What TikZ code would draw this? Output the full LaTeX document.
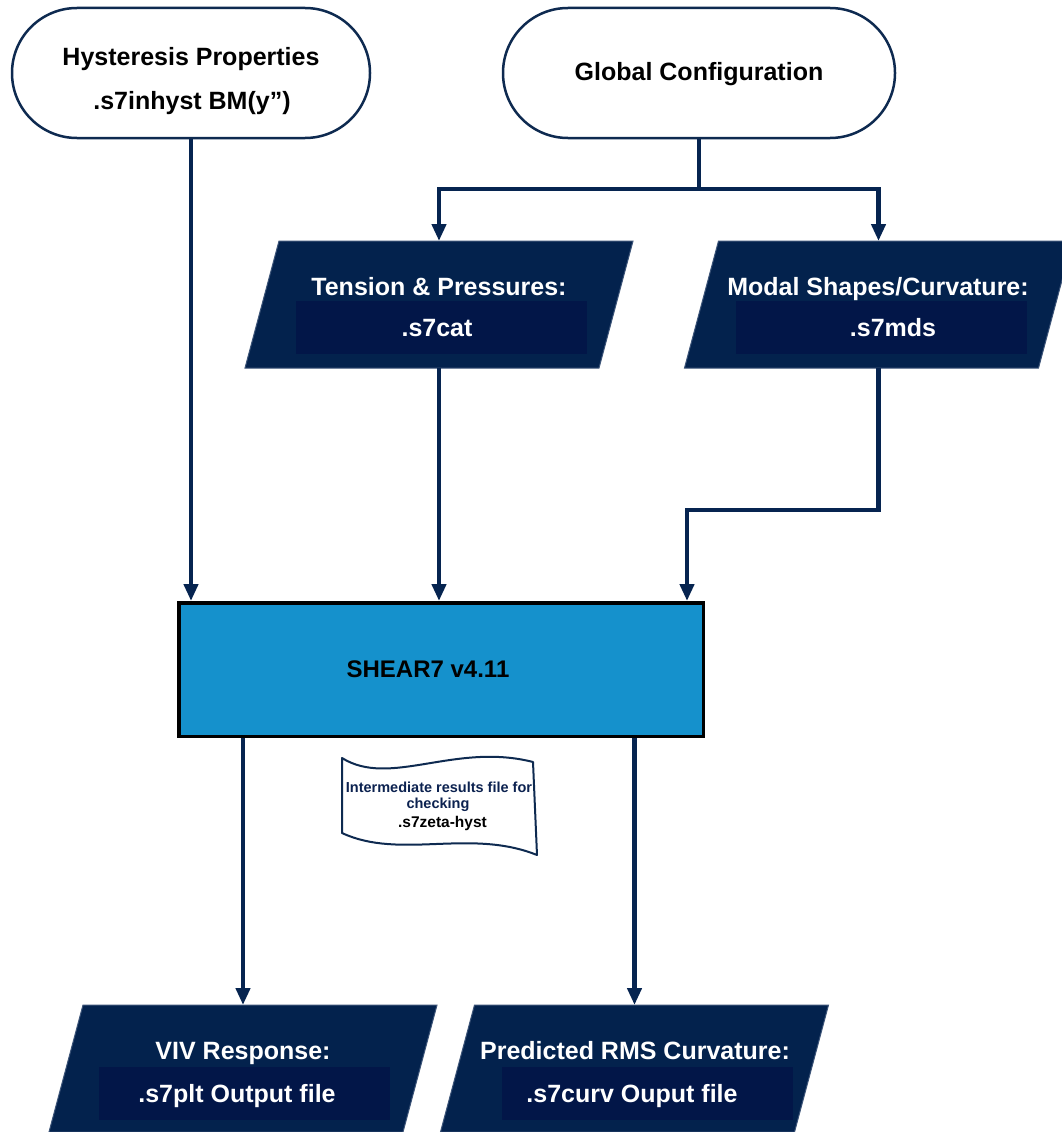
\documentclass[tikz,border=0pt]{standalone}
\usepackage{fontspec}
\setmainfont{Liberation Sans}
\usetikzlibrary{arrows.meta,calc}
\definecolor{navy}{RGB}{3,34,77}
\definecolor{innernavy}{RGB}{2,22,72}
\definecolor{conn}{RGB}{6,36,80}
\definecolor{shearblue}{RGB}{21,145,204}
\definecolor{edgeblue}{RGB}{14,42,80}
\definecolor{pedge}{RGB}{60,84,120}
\definecolor{doctext}{RGB}{12,34,80}
\begin{document}
\begin{tikzpicture}[x=1pt,y=-1pt,
  big/.style={font=\fontsize{25}{30}\selectfont\bfseries},
  lbl/.style={big, anchor=base, inner sep=0pt},
  wlbl/.style={lbl, text=white},
  stadium/.style={draw=edgeblue, line width=2.5pt, fill=white, rounded corners=64.9pt,
    minimum width=#1, minimum height=130pt, inner sep=0pt},
  frame/.style={inner sep=0pt, outer sep=0pt, minimum width=388pt, minimum height=127pt},
  pgram/.style={fill=navy, draw=pedge, line width=1pt},
  innerbox/.style={fill=innernavy, inner sep=0pt, minimum width=291pt, minimum height=53pt},
  shearbox/.style={draw=black, line width=3.5pt, fill=shearblue, inner sep=0pt,
    minimum width=524.5pt, minimum height=133.5pt},
  plainline/.style={draw=conn, line width=4.5pt},
  arr/.style={plainline, -{Triangle[length=17pt,width=14pt]}},
  doclbl/.style={anchor=base, inner sep=0pt, font=\fontsize{14.5}{17}\selectfont\bfseries, text=doctext}
]
\fill[white] (0,0) rectangle (1062,1132);
\useasboundingbox (0,0) rectangle (1062,1132);

% top terminals
\node[stadium=358pt] (hyst) at (191,73) {};
\node[lbl] (hyst1) at (191,65.5) {Hysteresis Properties};
\node[lbl] (hyst2) at (192,109) {.s7inhyst BM(y”)};
\node[stadium=392pt] (glob) at (699,73) {};
\node[lbl] (globt) at (699,81) {Global Configuration};

% input parallelograms
\node[frame] (ten) at (439,304.5) {};
\path[pgram] ([xshift=34pt]ten.north west) -- (ten.north east) -- ([xshift=-34pt]ten.south east) -- (ten.south west) -- cycle;
\node[innerbox] (tenin) at (441.5,327.5) {};
\node[wlbl] (tent) at (439,295) {Tension \& Pressures:};
\node[wlbl] (tenf) at (437,336) {.s7cat};

\node[frame] (mod) at (878.5,304.5) {};
\path[pgram] ([xshift=34pt]mod.north west) -- (mod.north east) -- ([xshift=-34pt]mod.south east) -- (mod.south west) -- cycle;
\node[innerbox] (modin) at (881.5,327.5) {};
\node[wlbl] (modt) at (878,295) {Modal Shapes/Curvature:};
\node[wlbl] (modf) at (893,336) {.s7mds};

% process
\node[shearbox] (shear) at (441,669.5) {};
\node[lbl, font=\fontsize{24}{29}\selectfont\bfseries] (sheart) at (428,677) {SHEAR7 v4.11};

% document
\path[fill=white, draw=edgeblue, line width=2pt, line join=round]
  (342,758) .. controls (390,788) and (455,742) .. (533,762)
  -- (537,855) .. controls (470,828) and (400,860) .. (342,833) -- cycle;
\node[doclbl] (doc1) at (439,792) {Intermediate results file for};
\node[doclbl] (doc2) at (438,808) {checking};
\node[doclbl, text=black, font=\fontsize{15.5}{18}\selectfont\bfseries] (doc3) at (442.5,827) {.s7zeta-hyst};

% outputs
\node[frame] (viv) at (243,1068.5) {};
\path[pgram] ([xshift=34pt]viv.north west) -- (viv.north east) -- ([xshift=-34pt]viv.south east) -- (viv.south west) -- cycle;
\node[innerbox] (vivin) at (244.5,1093.5) {};
\node[wlbl] (vivt) at (243,1059) {VIV Response:};
\node[wlbl] (vivf) at (237,1102) {.s7plt Output file};

\node[frame] (pred) at (634.5,1068.5) {};
\path[pgram] ([xshift=34pt]pred.north west) -- (pred.north east) -- ([xshift=-34pt]pred.south east) -- (pred.south west) -- cycle;
\node[innerbox] (predin) at (647.5,1093.5) {};
\node[wlbl] (predt) at (635,1059) {Predicted RMS Curvature:};
\node[wlbl] (predf) at (632,1102) {.s7curv Ouput file};

% connectors
\coordinate (split) at (699,189);
\draw[plainline] (glob.south) -- (split);
\draw[arr] (split) -| (ten.north);
\draw[arr] (split) -| (mod.north);
\draw[arr] (hyst.south) -- (hyst.south |- shear.north);
\draw[arr] (ten.south) -- (ten.south |- shear.north);
\draw[arr] (mod.south) -- ++(0,142) -| ([xshift=-18pt]shear.north east);
\draw[arr] (viv.north |- shear.south) -- (viv.north);
\draw[arr] (pred.north |- shear.south) -- (pred.north);
\end{tikzpicture}
\end{document}
